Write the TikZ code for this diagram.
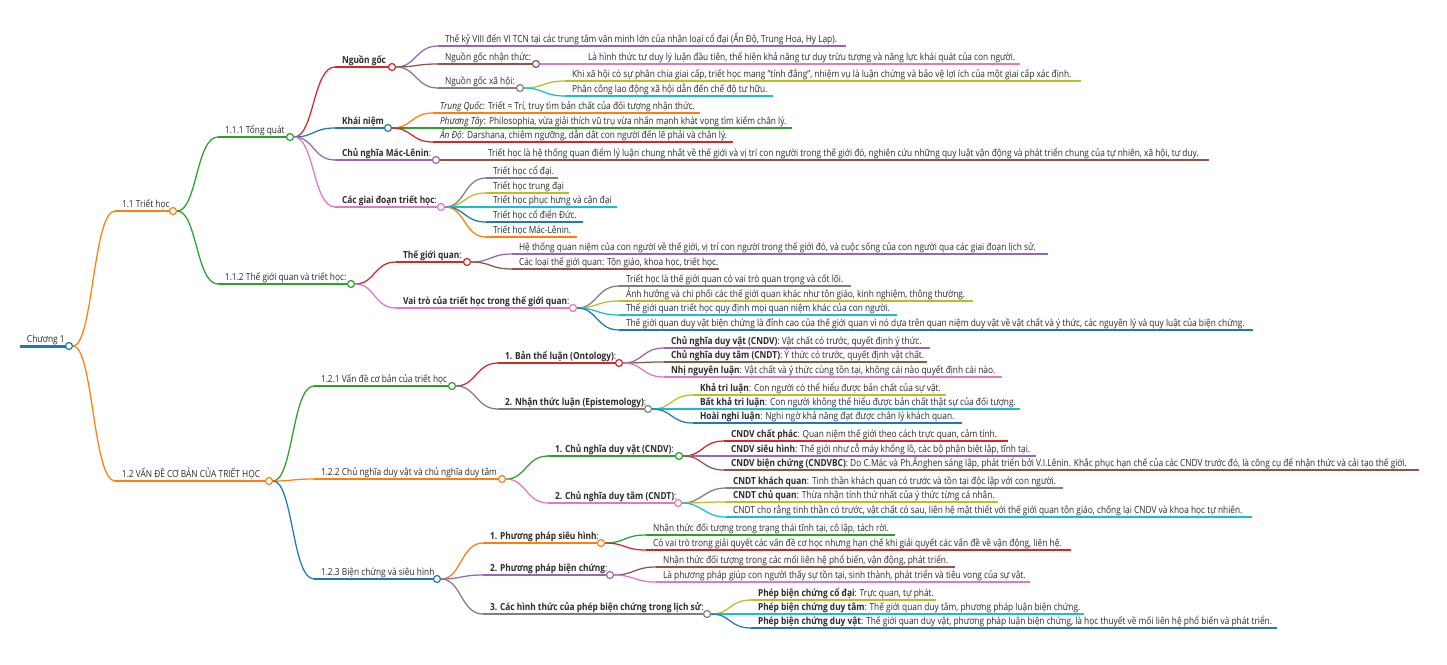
\documentclass[tikz,border=0pt]{standalone}
\usepackage{fontspec}
\setmainfont{Open Sans}[FakeStretch=0.86]
\definecolor{cBlue}{HTML}{1F77B4}
\definecolor{cOrange}{HTML}{FF7F0E}
\definecolor{cGreen}{HTML}{2CA02C}
\definecolor{cRed}{HTML}{D62728}
\definecolor{cPurple}{HTML}{9467BD}
\definecolor{cBrown}{HTML}{8C564B}
\definecolor{cPink}{HTML}{E377C2}
\definecolor{cGray}{HTML}{7F7F7F}
\definecolor{cOlive}{HTML}{BCBD22}
\definecolor{cCyan}{HTML}{17BECF}
\definecolor{txt}{HTML}{2A2A2A}
\tikzset{
  mmline/.style={line width=1.25pt},
  mmedge/.style={line width=1.25pt},
  mmtext/.style={inner sep=0pt, outer sep=0pt, anchor=base west, text=txt, font=\fontsize{9.7}{11}\selectfont},
  mmcirc/.style={circle, fill=white, line width=1.2pt, minimum size=7pt, inner sep=0pt},
}
\newcommand{\mmleaf}[7]{%
  \coordinate (#1-s) at (#3,#4);
  \coordinate (#1-e) at (#5,#4);
  \draw[mmedge,#6] (#2-c.east) .. controls +(20,0) and +(-22,0) .. (#1-s);
  \draw[mmline,#6] (#1-s) -- (#1-e);
  \node[mmtext] (#1) at (#3+7,#4-3.5) {#7};
}
\newcommand{\mmpar}[7]{%
  \mmleaf{#1}{#2}{#3}{#4}{#5}{#6}{#7}%
  \node[mmcirc,draw=#6] (#1-c) at (#1-e) {};
}
\begin{document}
\begin{tikzpicture}[x=1pt,y=-1pt]
\fill[white] (0,0) rectangle (1447,664);
\useasboundingbox (0,0) rectangle (1447,664);
% root
\coordinate (r-s) at (20,346);
\coordinate (r-e) at (69,346);
\draw[cBlue,line width=3pt] (r-s) -- (r-e);
\node[mmtext] (r) at (27,342.5) {Chương 1};
\node[mmcirc,draw=cBlue] (r-c) at (r-e) {};
% 1.1
\mmpar{a}{r}{115}{211}{173}{cOrange}{1.1 Triết học}
\mmpar{a1}{a}{218}{137}{290}{cGreen}{1.1.1 Tổng quát}
\mmpar{a1a}{a1}{335}{67}{392}{cRed}{\textbf{Nguồn gốc}}
\mmleaf{a1a1}{a1a}{438}{46}{846}{cPurple}{Thế kỷ VIII đến VI TCN tại các trung tâm văn minh lớn của nhân loại cổ đại (Ấn Độ, Trung Hoa, Hy Lạp).}
\mmpar{a1a2}{a1a}{438}{64}{536}{cBrown}{Nguồn gốc nhận thức:}
\mmleaf{a1a2a}{a1a2}{581}{64}{1020}{cPink}{Là hình thức tư duy lý luận đầu tiên, thể hiện khả năng tư duy trừu tượng và năng lực khái quát của con người.}
\mmpar{a1a3}{a1a}{438}{88}{520}{cGray}{Nguồn gốc xã hội:}
\mmleaf{a1a3a}{a1a3}{565}{81}{1081}{cOlive}{Khi xã hội có sự phân chia giai cấp, triết học mang "tính đẳng", nhiệm vụ là luận chứng và bảo vệ lợi ích của một giai cấp xác định.}
\mmleaf{a1a3b}{a1a3}{565}{96}{773}{cCyan}{Phân công lao động xã hội dẫn đến chế độ tư hữu.}
\mmpar{a1b}{a1}{335}{128}{388}{cBlue}{\textbf{Khái niệm}}
\mmleaf{a1b1}{a1b}{433}{113}{700}{cOrange}{\textit{Trung Quốc}: Triết = Trí, truy tìm bản chất của đối tượng nhận thức.}
\mmleaf{a1b2}{a1b}{433}{128}{792}{cGreen}{\textit{Phương Tây}: Philosophia, vừa giải thích vũ trụ vừa nhấn mạnh khát vọng tìm kiếm chân lý.}
\mmleaf{a1b3}{a1b}{433}{142}{733}{cRed}{\textit{Ấn Độ}: Darshana, chiêm ngưỡng, dẫn dắt con người đến lẽ phải và chân lý.}
\mmpar{a1c}{a1}{335}{160}{436}{cPurple}{\textbf{Chủ nghĩa Mác-Lênin}:}
\mmleaf{a1c1}{a1c}{481}{160}{1209}{cBrown}{Triết học là hệ thống quan điểm lý luận chung nhất về thế giới và vị trí con người trong thế giới đó, nghiên cứu những quy luật vận động và phát triển chung của tự nhiên, xã hội, tư duy.}
\mmpar{a1d}{a1}{335}{207}{441}{cPink}{\textbf{Các giai đoạn triết học}:}
\mmleaf{a1d1}{a1d}{486}{178}{558}{cGray}{Triết học cổ đại.}
\mmleaf{a1d2}{a1d}{486}{193}{569}{cOlive}{Triết học trung đại}
\mmleaf{a1d3}{a1d}{486}{207}{617}{cCyan}{Triết học phục hưng và cận đại}
\mmleaf{a1d4}{a1d}{486}{222}{583}{cBlue}{Triết học cổ điển Đức.}
\mmleaf{a1d5}{a1d}{486}{237}{577}{cOrange}{Triết học Mác-Lênin.}
\mmpar{a2}{a}{218}{284}{351}{cGreen}{1.1.2 Thế giới quan và triết học:}
\mmpar{a2a}{a2}{396}{262}{467}{cRed}{\textbf{Thế giới quan}:}
\mmleaf{a2a1}{a2a}{512}{254}{1048}{cPurple}{Hệ thống quan niệm của con người về thế giới, vị trí con người trong thế giới đó, và cuộc sống của con người qua các giai đoạn lịch sử.}
\mmleaf{a2a2}{a2a}{512}{269}{719}{cBrown}{Các loại thế giới quan: Tôn giáo, khoa học, triết học.}
\mmpar{a2b}{a2}{396}{308}{573}{cPink}{\textbf{Vai trò của triết học trong thế giới quan}:}
\mmleaf{a2b1}{a2b}{619}{286}{851}{cGray}{Triết học là thế giới quan có vai trò quan trọng và cốt lõi.}
\mmleaf{a2b2}{a2b}{619}{301}{973}{cOlive}{Ảnh hưởng và chi phối các thế giới quan khác như tôn giáo, kinh nghiệm, thông thường.}
\mmleaf{a2b3}{a2b}{619}{315}{897}{cCyan}{Thế giới quan triết học quy định mọi quan niệm khác của con người.}
\mmleaf{a2b4}{a2b}{619}{330}{1253}{cBlue}{Thế giới quan duy vật biện chứng là đỉnh cao của thế giới quan vì nó dựa trên quan niệm duy vật về vật chất và ý thức, các nguyên lý và quy luật của biện chứng.}
% 1.2
\mmpar{b}{r}{115}{481}{269}{cOrange}{1.2 VẤN ĐỀ CƠ BẢN CỦA TRIẾT HỌC}
\mmpar{b1}{b}{314}{386}{452}{cGreen}{1.2.1 Vấn đề cơ bản của triết học}
\mmpar{b1a}{b1}{498}{363}{619}{cRed}{\textbf{1. Bản thể luận (Ontology)}:}
\mmleaf{b1a1}{b1a}{664}{348}{930}{cPurple}{\textbf{Chủ nghĩa duy vật (CNDV)}: Vật chất có trước, quyết định ý thức.}
\mmleaf{b1a2}{b1a}{664}{362}{927}{cBrown}{\textbf{Chủ nghĩa duy tâm (CNDT)}: Ý thức có trước, quyết định vật chất.}
\mmleaf{b1a3}{b1a}{664}{377}{1002}{cPink}{\textbf{Nhị nguyên luận}: Vật chất và ý thức cùng tồn tại, không cái nào quyết định cái nào.}
\mmpar{b1b}{b1}{498}{409}{648}{cGray}{\textbf{2. Nhận thức luận (Epistemology)}:}
\mmleaf{b1b1}{b1b}{693}{395}{946}{cOlive}{\textbf{Khả tri luận}: Con người có thể hiểu được bản chất của sự vật.}
\mmleaf{b1b2}{b1b}{693}{409}{1020}{cCyan}{\textbf{Bất khả tri luận}: Con người không thể hiểu được bản chất thật sự của đối tượng.}
\mmleaf{b1b3}{b1b}{693}{423}{962}{cBlue}{\textbf{Hoài nghi luận}: Nghi ngờ khả năng đạt được chân lý khách quan.}
\mmpar{b2}{b}{314}{479}{502}{cOrange}{1.2.2 Chủ nghĩa duy vật và chủ nghĩa duy tâm}
\mmpar{b2a}{b2}{548}{456}{679}{cGreen}{\textbf{1. Chủ nghĩa duy vật (CNDV)}:}
\mmleaf{b2a1}{b2a}{724}{441}{1008}{cRed}{\textbf{CNDV chất phác}: Quan niệm thế giới theo cách trực quan, cảm tính.}
\mmleaf{b2a2}{b2a}{724}{456}{1036}{cPurple}{\textbf{CNDV siêu hình}: Thế giới như cỗ máy khổng lồ, các bộ phận biệt lập, tĩnh tại.}
\mmleaf{b2a3}{b2a}{724}{470}{1419}{cBrown}{\textbf{CNDV biện chứng (CNDVBC)}: Do C.Mác và Ph.Ănghen sáng lập, phát triển bởi V.I.Lênin. Khắc phục hạn chế của các CNDV trước đó, là công cụ để nhận thức và cải tạo thế giới.}
\mmpar{b2b}{b2}{548}{503}{678}{cPink}{\textbf{2. Chủ nghĩa duy tâm (CNDT)}:}
\mmleaf{b2b1}{b2b}{726}{488}{1063}{cGray}{\textbf{CNDT khách quan}: Tinh thần khách quan có trước và tồn tại độc lập với con người.}
\mmleaf{b2b2}{b2b}{726}{502}{998}{cOlive}{\textbf{CNDT chủ quan}: Thừa nhận tính thứ nhất của ý thức từng cá nhân.}
\mmleaf{b2b3}{b2b}{726}{517}{1252}{cCyan}{CNDT cho rằng tinh thần có trước, vật chất có sau, liên hệ mật thiết với thế giới quan tôn giáo, chống lại CNDV và khoa học tự nhiên.}
\mmpar{b3}{b}{314}{579}{437}{cBlue}{1.2.3 Biện chứng và siêu hình}
\mmpar{b3a}{b3}{483}{543}{601}{cOrange}{\textbf{1. Phương pháp siêu hình}:}
\mmleaf{b3a1}{b3a}{646}{535}{895}{cGreen}{Nhận thức đối tượng trong trạng thái tĩnh tại, cô lập, tách rời.}
\mmleaf{b3a2}{b3a}{646}{550}{1071}{cRed}{Có vai trò trong giải quyết các vấn đề cơ học nhưng hạn chế khi giải quyết các vấn đề về vận động, liên hệ.}
\mmpar{b3b}{b3}{483}{575}{610}{cPurple}{\textbf{2. Phương pháp biện chứng}:}
\mmleaf{b3b1}{b3b}{656}{567}{955}{cBrown}{Nhận thức đối tượng trong các mối liên hệ phổ biến, vận động, phát triển.}
\mmleaf{b3b2}{b3b}{656}{582}{1030}{cPink}{Là phương pháp giúp con người thấy sự tồn tại, sinh thành, phát triển và tiêu vong của sự vật.}
\mmpar{b3c}{b3}{483}{614}{707}{cGray}{\textbf{3. Các hình thức của phép biện chứng trong lịch sử}:}
\mmleaf{b3c1}{b3c}{751}{600}{936}{cOlive}{\textbf{Phép biện chứng cổ đại}: Trực quan, tự phát.}
\mmleaf{b3c2}{b3c}{751}{614}{1084}{cCyan}{\textbf{Phép biện chứng duy tâm}: Thế giới quan duy tâm, phương pháp luận biện chứng.}
\mmleaf{b3c3}{b3c}{751}{628}{1277}{cBlue}{\textbf{Phép biện chứng duy vật}: Thế giới quan duy vật, phương pháp luận biện chứng, là học thuyết về mối liên hệ phổ biến và phát triển.}
\end{tikzpicture}
\end{document}
